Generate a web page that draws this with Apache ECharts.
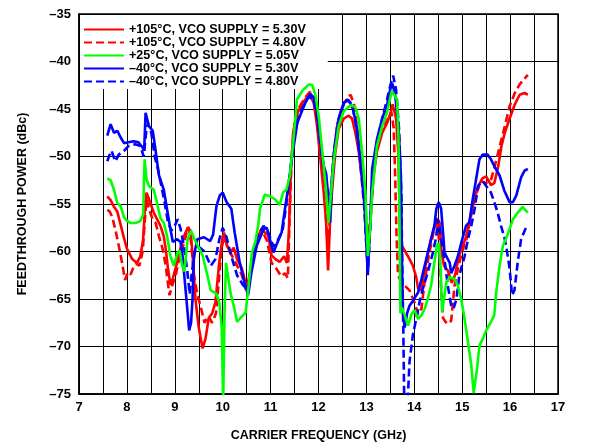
<!DOCTYPE html>
<html>
<head>
<meta charset="utf-8">
<script src="https://cdn.jsdelivr.net/npm/echarts@6/dist/echarts.min.js"></script>
<style>html,body{margin:0;padding:0;background:#fff;}#c{width:589px;height:447px;}</style>
</head>
<body>
<div id="c"></div>
<script>
// Frequency (GHz), feedthrough power (dBc)
const seriesNames = [
  '+105°C, VCO SUPPLY = 5.30V',
  '+105°C, VCO SUPPLY = 4.80V',
  '+25°C, VCO SUPPLY = 5.05V',
  '\u201340°C, VCO SUPPLY = 5.30V',
  '\u201340°C, VCO SUPPLY = 4.80V'
];
const xTicks = [7, 8, 9, 10, 11, 12, 13, 14, 15, 16, 17];
const yTicks = [-75, -70, -65, -60, -55, -50, -45, -40, -35];

const red530 = [[7.59,-54.2],[7.66,-54.6],[7.73,-55.3],[7.80,-55.8],[7.87,-57.2],[7.94,-58.6],[8.00,-59.7],[8.11,-60.8],[8.21,-61.2],[8.28,-60.5],[8.34,-58.7],[8.38,-55],[8.41,-53.8],[8.49,-54.9],[8.56,-55.9],[8.63,-56.6],[8.70,-57.3],[8.77,-58.4],[8.81,-59.7],[8.86,-61.9],[8.91,-63.5],[8.96,-62.8],[9.03,-61.5],[9.10,-60.0],[9.18,-58.5],[9.27,-57.5],[9.33,-57.8],[9.38,-61],[9.43,-65],[9.50,-68],[9.58,-70.2],[9.64,-69.2],[9.71,-67],[9.78,-66.5],[9.85,-65.3],[9.92,-61.5],[9.99,-58.7],[10.03,-58],[10.09,-59.4],[10.16,-60.1],[10.23,-59.6],[10.30,-60.8],[10.40,-61.8],[10.47,-63.2],[10.50,-63.9],[10.57,-62.2],[10.64,-60.4],[10.71,-58.7],[10.81,-57.6],[10.88,-58],[10.95,-58.3],[11.02,-60.4],[11.10,-60.8],[11.19,-61.1],[11.28,-60.5],[11.34,-61.2],[11.38,-58],[11.42,-52],[11.47,-47.5],[11.55,-45.5],[11.65,-44.5],[11.80,-43.5],[11.90,-44.3],[11.97,-46.8],[12.04,-50.3],[12.11,-53.8],[12.16,-57],[12.20,-62],[12.24,-57],[12.28,-53.8],[12.35,-49.6],[12.42,-47.1],[12.53,-46],[12.63,-45.7],[12.70,-46],[12.77,-47.5],[12.84,-49.5],[12.91,-52.5],[12.98,-56],[13.03,-60.5],[13.08,-57],[13.15,-52],[13.22,-49.5],[13.33,-47.5],[13.43,-46.5],[13.50,-45.5],[13.55,-44.5],[13.62,-46],[13.67,-50],[13.70,-57.5],[13.74,-59.4],[13.80,-59.9],[13.90,-60.8],[13.97,-61.5],[14.04,-62.7],[14.08,-63.9],[14.15,-64.1],[14.22,-61.8],[14.32,-59.4],[14.42,-57.3],[14.48,-56.5],[14.53,-57],[14.57,-60],[14.62,-61.5],[14.70,-62],[14.78,-63.3],[14.85,-62.5],[14.93,-60.5],[15.00,-59.5],[15.08,-58.5],[15.19,-56],[15.27,-54],[15.35,-53],[15.42,-52.3],[15.50,-52.1],[15.60,-53],[15.67,-52.8],[15.75,-51.1],[15.82,-48.9],[15.89,-47.5],[15.99,-46],[16.10,-44.5],[16.20,-43.5],[16.30,-43.3],[16.37,-43.5]];

const red480 = [[7.59,-55.6],[7.64,-55.8],[7.69,-56.3],[7.76,-57.7],[7.83,-59.4],[7.90,-61.2],[7.96,-63],[8.02,-62.2],[8.08,-62.4],[8.14,-61.6],[8.20,-61.3],[8.26,-61.5],[8.33,-60],[8.37,-57],[8.41,-54.5],[8.46,-55.5],[8.53,-56.5],[8.60,-57],[8.67,-58.4],[8.75,-59.8],[8.81,-61.5],[8.86,-63.5],[8.89,-64.6],[8.95,-63.5],[9.02,-62.5],[9.10,-60.5],[9.20,-59],[9.28,-57.4],[9.34,-59],[9.40,-62.5],[9.47,-64.5],[9.55,-66],[9.62,-67.5],[9.70,-66.8],[9.78,-67.5],[9.86,-66.5],[9.92,-63],[9.98,-59.5],[10.04,-58.5],[10.12,-59.8],[10.20,-60.5],[10.30,-61.5],[10.40,-62.5],[10.48,-64],[10.55,-63],[10.63,-61],[10.72,-59],[10.82,-57.8],[10.92,-58.8],[11.02,-61.2],[11.12,-61.8],[11.22,-62.6],[11.30,-62.3],[11.36,-62.8],[11.40,-56],[11.44,-50],[11.50,-46.5],[11.60,-44.8],[11.72,-43.8],[11.82,-43.2],[11.90,-43.8],[11.97,-46],[12.04,-49.5],[12.11,-53],[12.17,-57.5],[12.20,-60.5],[12.24,-56],[12.30,-51],[12.38,-47],[12.48,-45],[12.58,-44],[12.67,-43.5],[12.74,-44.5],[12.82,-47.5],[12.90,-51],[12.98,-55],[13.03,-60],[13.08,-56.5],[13.15,-51.5],[13.25,-48.5],[13.35,-47],[13.45,-46],[13.52,-45.3],[13.57,-47],[13.60,-52],[13.63,-58.5],[13.66,-62.5],[13.73,-63.2],[13.80,-63.6],[13.90,-64.1],[14.00,-65.3],[14.08,-66.6],[14.15,-66],[14.22,-63],[14.30,-60.5],[14.40,-58],[14.47,-56.5],[14.52,-59],[14.56,-64],[14.60,-67],[14.68,-67.6],[14.77,-67.3],[14.84,-63.6],[14.91,-61.8],[15.00,-60],[15.10,-58.5],[15.20,-55.8],[15.30,-53.8],[15.40,-52.6],[15.50,-52.8],[15.60,-52.5],[15.67,-51.2],[15.78,-49],[15.89,-46.8],[15.99,-44.7],[16.10,-43.3],[16.20,-42.4],[16.30,-41.8],[16.37,-41.4]];

const green505 = [[7.59,-52.3],[7.66,-52.5],[7.73,-53.5],[7.80,-54.9],[7.87,-55.2],[7.94,-56.4],[8.01,-56.8],[8.08,-57],[8.18,-57],[8.28,-56.8],[8.34,-56.1],[8.36,-52],[8.37,-50.3],[8.41,-52.4],[8.46,-53.1],[8.56,-53.5],[8.63,-54.9],[8.70,-56.5],[8.77,-57],[8.84,-58.4],[8.91,-60.5],[8.98,-61.5],[9.05,-60.2],[9.10,-59.9],[9.15,-61.4],[9.20,-62.1],[9.27,-58.7],[9.34,-57.8],[9.41,-58.7],[9.48,-59.4],[9.58,-60.4],[9.68,-62.5],[9.75,-64.1],[9.86,-64.4],[9.93,-65.4],[9.98,-68],[10.01,-76],[10.04,-66],[10.07,-61.2],[10.16,-64.3],[10.23,-65.7],[10.30,-67.4],[10.37,-67],[10.43,-66.7],[10.48,-66.4],[10.54,-63.6],[10.61,-60.1],[10.68,-59],[10.74,-57.3],[10.78,-55.5],[10.88,-54],[10.99,-54.2],[11.09,-54.5],[11.19,-55.1],[11.26,-53.8],[11.33,-53.5],[11.40,-52.1],[11.47,-48.6],[11.55,-44],[11.66,-43.1],[11.80,-42.4],[11.87,-42.5],[11.94,-43.6],[12.01,-46],[12.08,-49.6],[12.15,-53.1],[12.21,-57],[12.26,-54],[12.32,-50.3],[12.42,-46.8],[12.53,-45.2],[12.67,-44.6],[12.77,-44.8],[12.84,-46],[12.91,-49.6],[12.98,-53.8],[13.03,-60.5],[13.08,-57.5],[13.12,-53.8],[13.22,-48.9],[13.33,-46.8],[13.43,-45.4],[13.53,-43.1],[13.57,-42.9],[13.64,-44],[13.67,-48],[13.69,-56],[13.71,-66.5],[13.74,-65.9],[13.80,-66.7],[13.87,-67.8],[13.94,-66.6],[14.01,-66.2],[14.08,-67.1],[14.15,-66.7],[14.22,-66],[14.28,-65],[14.35,-63.6],[14.42,-61.1],[14.47,-59.4],[14.51,-59.1],[14.55,-61.8],[14.58,-66.4],[14.61,-65.3],[14.67,-63.2],[14.74,-62.7],[14.84,-62.9],[14.91,-63.6],[14.98,-65],[15.05,-67.1],[15.12,-69.5],[15.19,-72],[15.24,-74.9],[15.31,-72.3],[15.36,-69.9],[15.43,-69.2],[15.50,-68.3],[15.60,-67.4],[15.67,-66.7],[15.71,-64.3],[15.78,-61.5],[15.85,-59.4],[15.95,-58.2],[16.06,-56.6],[16.16,-55.9],[16.26,-55.3],[16.33,-55.7],[16.37,-55.9]];

const blue530 = [[7.59,-47.8],[7.66,-46.6],[7.73,-47.5],[7.80,-47.3],[7.87,-48],[7.94,-48.6],[8.03,-48.5],[8.14,-48.4],[8.24,-48.5],[8.32,-49],[8.36,-49.4],[8.39,-45.4],[8.46,-46.8],[8.54,-47.3],[8.60,-49.4],[8.67,-52],[8.77,-53.5],[8.84,-55.6],[8.91,-57.7],[8.96,-59],[9.05,-58.7],[9.12,-59],[9.16,-60.4],[9.23,-64.3],[9.30,-68.3],[9.34,-67.5],[9.37,-65],[9.40,-60.4],[9.47,-58.7],[9.61,-58.5],[9.74,-58.9],[9.80,-58.2],[9.87,-55.2],[9.94,-54.1],[10.00,-53.8],[10.08,-54.8],[10.18,-55.5],[10.25,-58],[10.35,-61],[10.47,-63.6],[10.53,-64.6],[10.60,-62.2],[10.71,-59.4],[10.85,-57.7],[10.92,-57.5],[11.06,-60.1],[11.13,-59.2],[11.23,-58],[11.30,-55.5],[11.36,-53.5],[11.45,-50],[11.56,-46.4],[11.73,-44.3],[11.83,-43.4],[11.90,-43.8],[11.97,-45.4],[12.04,-48.5],[12.11,-51],[12.16,-51.8],[12.20,-54],[12.24,-57],[12.28,-53],[12.34,-49],[12.42,-46],[12.53,-44.3],[12.63,-44.1],[12.72,-45],[12.80,-47],[12.88,-50.5],[12.96,-55],[13.03,-62.5],[13.08,-57],[13.12,-51.3],[13.22,-48.2],[13.33,-46],[13.43,-44.6],[13.50,-42.9],[13.54,-42.3],[13.60,-43.5],[13.67,-46.8],[13.72,-52],[13.74,-60],[13.76,-66.4],[13.80,-68],[13.85,-66.5],[13.90,-65.7],[13.97,-65.2],[14.08,-64.3],[14.15,-62.9],[14.25,-60.8],[14.35,-58.7],[14.42,-57.3],[14.46,-55.5],[14.51,-54.8],[14.56,-55.5],[14.60,-58],[14.63,-60.1],[14.67,-60.5],[14.74,-61.2],[14.77,-62.3],[14.84,-61.5],[14.91,-60.5],[14.98,-59.1],[15.08,-57.3],[15.15,-56.9],[15.22,-54.5],[15.29,-52.4],[15.36,-50.3],[15.43,-49.8],[15.53,-49.8],[15.60,-50.3],[15.67,-51],[15.78,-52],[15.88,-53.6],[15.99,-54.8],[16.06,-54.8],[16.13,-54.1],[16.23,-52.2],[16.30,-51.5],[16.37,-51.3]];

const blue480 = [[7.59,-50.5],[7.64,-49.8],[7.68,-49.4],[7.72,-50],[7.76,-50.5],[7.83,-49.8],[7.94,-49.4],[8.03,-48.9],[8.17,-48.7],[8.28,-48.9],[8.35,-50],[8.40,-47.5],[8.44,-46.5],[8.51,-47.5],[8.58,-50],[8.65,-51.4],[8.72,-53.1],[8.79,-54.9],[8.86,-57],[8.93,-57.8],[9.00,-57.3],[9.06,-56.6],[9.12,-57.6],[9.19,-59.4],[9.26,-62],[9.31,-64.5],[9.36,-62],[9.42,-60],[9.50,-59.5],[9.62,-60],[9.75,-61.5],[9.85,-60.8],[9.93,-58.7],[10.00,-57.5],[10.08,-58.5],[10.18,-60.5],[10.30,-62.5],[10.42,-63.5],[10.52,-64],[10.60,-61.5],[10.72,-58.5],[10.85,-57.3],[10.95,-58],[11.06,-59.5],[11.15,-58.8],[11.25,-57.8],[11.33,-55],[11.42,-51],[11.52,-47],[11.65,-45],[11.78,-43.8],[11.88,-43.8],[11.96,-45.5],[12.04,-48.8],[12.11,-51.5],[12.17,-53.5],[12.21,-56],[12.26,-53.5],[12.32,-49.5],[12.40,-46.5],[12.50,-44.8],[12.60,-44],[12.70,-44.5],[12.78,-46.5],[12.86,-50],[12.95,-55],[13.03,-62],[13.08,-57.5],[13.13,-52],[13.22,-48.5],[13.33,-46],[13.43,-44],[13.50,-42.5],[13.56,-41.5],[13.62,-43],[13.68,-47],[13.73,-54],[13.75,-62],[13.77,-68],[13.79,-76],[13.86,-76],[13.90,-71.6],[13.97,-68.8],[14.04,-67.1],[14.11,-65.3],[14.18,-63.9],[14.28,-62.2],[14.39,-60.1],[14.46,-58.4],[14.49,-56.6],[14.53,-57.5],[14.56,-58.7],[14.63,-60.8],[14.70,-63.6],[14.77,-65.7],[14.82,-66],[14.88,-65],[14.94,-62.5],[15.05,-60.5],[15.12,-58.7],[15.19,-57.3],[15.26,-55.5],[15.33,-53.1],[15.43,-52.6],[15.50,-53.1],[15.60,-53.8],[15.67,-54.8],[15.74,-55.9],[15.81,-57.3],[15.88,-58.5],[15.92,-59.5],[15.99,-61.8],[16.04,-64.6],[16.09,-64.1],[16.16,-61.1],[16.23,-58.7],[16.33,-57.5],[16.36,-57.7]];

const FONT = 'Liberation Sans, Arial, sans-serif';
const chart = echarts.init(document.getElementById('c'), null, {renderer: 'canvas'});

function mk(name, data, color, dashed, z) {
  return {
    name: name, type: 'line', data: data, symbol: 'none', smooth: false,
    z: z, clip: true,
    lineStyle: {color: color, width: 2.6, type: dashed ? [8, 4] : 'solid'},
    itemStyle: {color: color}
  };
}

chart.setOption({
  animation: false,
  backgroundColor: '#fff',
  grid: {left: 79, right: 31, top: 14, bottom: 51, show: true, borderColor: '#000', borderWidth: 1.5, backgroundColor: 'transparent'},
  legend: {
    data: seriesNames,
    orient: 'vertical', left: 80, top: 15,
    itemWidth: 40, itemHeight: 10, itemGap: 0,
    padding: [8, 22, 1, 3],
    backgroundColor: '#fff',
    itemStyle: {opacity: 0},
    textStyle: {fontFamily: FONT, fontWeight: 'bold', fontSize: 12.6, color: '#000', lineHeight: 12.8, height: 12.8},
    selectedMode: false, z: 1
  },
  xAxis: {
    type: 'value', min: 7, max: 17, interval: 0.5,
    name: 'CARRIER FREQUENCY (GHz)', nameLocation: 'middle', nameGap: 35,
    nameTextStyle: {fontFamily: FONT, fontWeight: 'bold', fontSize: 12.5, color: '#000'},
    axisLine: {show: true, lineStyle: {color: '#000', width: 1.5}},
    axisTick: {show: false},
    axisLabel: {
      fontFamily: FONT, fontWeight: 'bold', fontSize: 13, color: '#000', margin: 7,
      formatter: function (v) { return xTicks.indexOf(v) >= 0 ? String(v) : ''; }
    },
    splitLine: {show: true, lineStyle: {color: '#000', width: 1}}
  },
  yAxis: {
    type: 'value', min: -75, max: -35, interval: 5,
    name: 'FEEDTHROUGH POWER (dBc)', nameLocation: 'middle', nameGap: 50, nameRotate: 90,
    nameTextStyle: {fontFamily: FONT, fontWeight: 'bold', fontSize: 12.5, color: '#000'},
    axisLine: {show: true, lineStyle: {color: '#000', width: 1.5}},
    axisTick: {show: false},
    axisLabel: {
      fontFamily: FONT, fontWeight: 'bold', fontSize: 13, color: '#000', margin: 8,
      formatter: function (v) { return yTicks.indexOf(v) >= 0 ? String(v).replace('-', '\u2013') : ''; }
    },
    splitLine: {show: true, lineStyle: {color: '#000', width: 1}}
  },
  graphic: [{
    type: 'text', x: 588, y: 443, rotation: Math.PI / 2,
    style: {text: '16981-018', fill: '#444', font: '7.5px ' + FONT}
  }],
  series: [
    mk(seriesNames[0], red530, '#ff0000', false, 2),
    mk(seriesNames[1], red480, '#ff0000', true, 2),
    mk(seriesNames[3], blue530, '#0000ff', false, 3),
    mk(seriesNames[4], blue480, '#0000ff', true, 3),
    mk(seriesNames[2], green505, '#00ff00', false, 4)
  ]
});
</script>
</body>
</html>
